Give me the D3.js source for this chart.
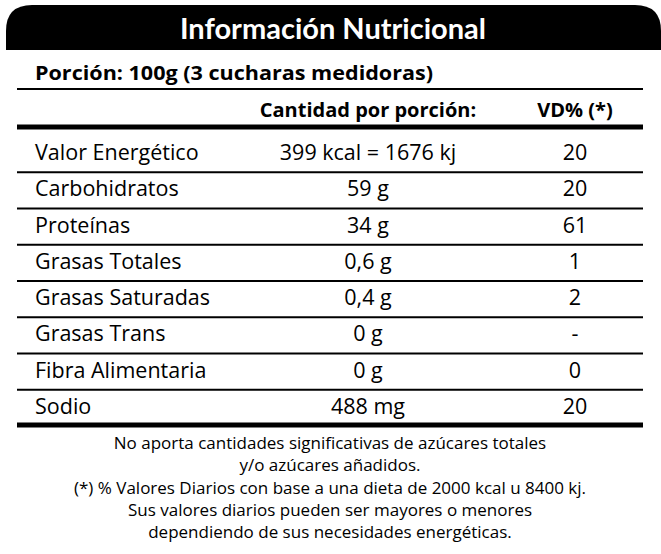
<!DOCTYPE html><html><head><meta charset="utf-8"><script src="https://cdn.jsdelivr.net/npm/d3@7"></script>
<style>body{margin:0;background:#fff}</style></head><body><svg id="c" width="661" height="554"></svg>
<script>
const title="Información Nutricional";
const portion="Porción: 100g (3 cucharas medidoras)";
const headers=["Cantidad por porción:","VD% (*)"];
const nutrients=["Valor Energético","Carbohidratos","Proteínas","Grasas Totales","Grasas Saturadas","Grasas Trans","Fibra Alimentaria","Sodio"];
const amounts=["399 kcal = 1676 kj","59 g","34 g","0,6 g","0,4 g","0 g","0 g","488 mg"];
const vd=["20","20","61","1","2","-","0","20"];
const notes=["No aporta cantidades significativas de azúcares totales","y/o azúcares añadidos.","(*) % Valores Diarios con base a una dieta de 2000 kcal u 8400 kj.","Sus valores diarios pueden ser mayores o menores","dependiendo de sus necesidades energéticas."];
const svg=d3.select("#c"),F="'Open Sans', sans-serif",FT="Lato, sans-serif";
const r=26,x0=6,x1=661,y0=5,y1=50;
svg.append("path").attr("d",`M${x0},${y1}V${y0+r}Q${x0},${y0} ${x0+r},${y0}H${x1-r}Q${x1},${y0} ${x1},${y0+r}V${y1}Z`).attr("fill","#000");
svg.append("text").attr("x",333).attr("y",39).attr("text-anchor","middle").attr("fill","#fff").attr("font-family",FT).attr("font-weight","bold").attr("font-size",29).text(title);
svg.append("text").attr("x",35).attr("y",80).attr("font-family",F).attr("font-weight","bold").attr("font-size",19).attr("textLength",398).attr("lengthAdjust","spacingAndGlyphs").text(portion);
const line=(y,w)=>svg.append("line").attr("x1",17).attr("x2",643).attr("y1",y).attr("y2",y).attr("stroke","#000").attr("stroke-width",w);
line(89,2);line(127,5);
const hx=[368,575];
headers.forEach((h,i)=>svg.append("text").attr("x",hx[i]).attr("y",117).attr("text-anchor","middle").attr("font-family",F).attr("font-weight","bold").attr("font-size",20).text(h));
const y=d3.scaleBand().domain(nutrients).range([134,424]);
nutrients.forEach((n,i)=>{
 const b=y(n)+y.bandwidth()/2+8;
 const t=(x,a,s)=>svg.append("text").attr("x",x).attr("y",b).attr("text-anchor",a).attr("font-family",F).attr("font-size",21.5).text(s);
 t(35,"start",n);t(368,"middle",amounts[i]);t(575,"middle",vd[i]);
 if(i<nutrients.length-1) line(y(n)+y.bandwidth()+2,2);
});
line(425,5);
notes.forEach((s,i)=>svg.append("text").attr("x",330).attr("y",449+i*22.3).attr("text-anchor","middle").attr("font-family",F).attr("font-size",17).text(s));
</script></body></html>
